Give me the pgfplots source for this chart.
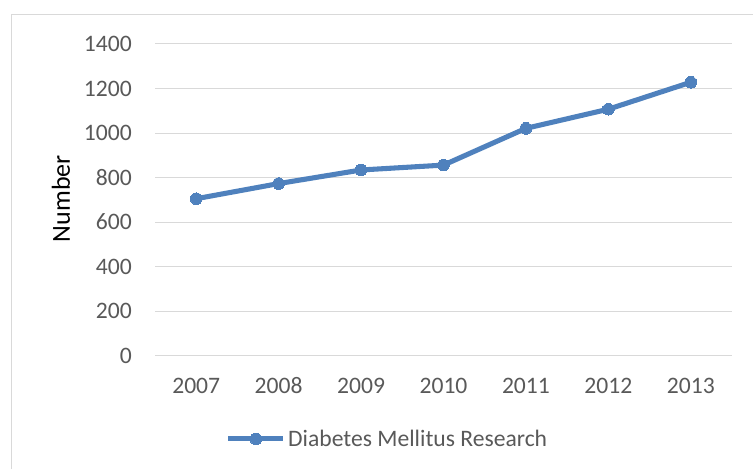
\documentclass[border=0pt]{standalone}
\usepackage{pgfplots}
\pgfplotsset{compat=1.18}
\usepackage{fontspec}
\setmainfont{Carlito}
\definecolor{lineblue}{HTML}{4F81BD}
\definecolor{gridgray}{HTML}{D9D9D9}
\definecolor{ticktext}{HTML}{595959}
\begin{document}
\begin{tikzpicture}[x=1pt,y=1pt]
\path[use as bounding box] (0,0) rectangle (564.75,351.75);
\draw[gridgray, line width=0.75pt] (8.25,0) -- (8.25,340.5) -- (564.75,340.5);
\begin{axis}[
  at={(116.25pt,84.98pt)}, anchor=south west, scale only axis,
  width=432.75pt, height=233.8pt,
  xmin=-0.5, xmax=6.5, ymin=0, ymax=1400,
  xtick={0,1,2,3,4,5,6},
  xticklabels={2007,2008,2009,2010,2011,2012,2013},
  ytick={0,200,400,600,800,1000,1200,1400},
  axis line style={draw=none},
  major tick length=0pt,
  ymajorgrids, grid style={gridgray, line width=0.75pt},
  tick label style={font=\fontsize{17.7}{20}\selectfont, text=ticktext, text height=11.4pt, text depth=0pt},
  /pgf/number format/assume math mode=true,
  /pgf/number format/1000 sep={},
  yticklabel style={anchor=east, inner sep=0pt, xshift=-17.25pt},
  xticklabel style={anchor=north, inner sep=0pt, yshift=-17pt},
  ylabel={Number},
  ylabel style={at={(axis description cs:-0.163,0.504)}, anchor=center, font=\fontsize{19.5}{22}\selectfont, text=black},
  legend style={at={(axis description cs:0.4035,-0.267)}, anchor=center, draw=none, fill=none, inner sep=0pt,
    font=\fontsize{17.7}{20}\selectfont, text=ticktext, nodes={inner sep=1.9pt}},
  legend cell align=left,
  legend image code/.code={\draw[#1,mark repeat=2,mark phase=2] plot coordinates {(0pt,0pt) (20.5pt,0pt) (41pt,0pt)};},
]
\addplot[color=lineblue, line width=3.8pt, mark=*, mark size=4.4pt, mark options={solid, fill=lineblue, draw=lineblue, line width=0pt}]
  coordinates {(0,705) (1,773) (2,834) (3,856) (4,1021) (5,1107) (6,1228)};
\addlegendentry{Diabetes Mellitus Research}
\end{axis}
\end{tikzpicture}
\end{document}
